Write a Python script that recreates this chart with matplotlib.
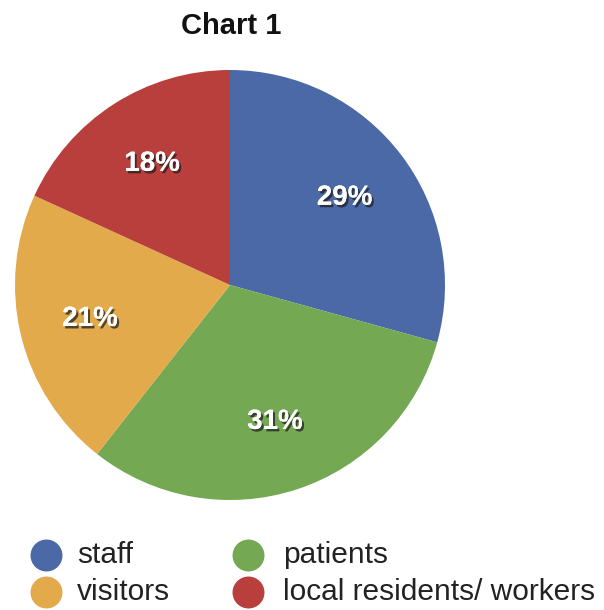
import matplotlib
matplotlib.use("Agg")
import matplotlib.pyplot as plt
import matplotlib.patheffects as pe
from matplotlib.lines import Line2D

plt.rcParams['font.family'] = ['Liberation Sans', 'DejaVu Sans']

title = "Chart 1"
categories = ["staff", "patients", "visitors", "local residents/ workers"]
shares = [29, 31, 21, 18]
colors = ["#4a69a6", "#74a853", "#e2aa4b", "#b83f3b"]

W, H = 604, 610
fig = plt.figure(figsize=(W / 100, H / 100), dpi=100)

ax = fig.add_axes([15 / W, 1 - 500 / H, 430 / W, 430 / H])
wedges, _, autotexts = ax.pie(
    shares, colors=colors, startangle=90, counterclock=False,
    autopct=lambda p: f"{p:.0f}%", pctdistance=0.67,
    wedgeprops=dict(linewidth=0),
    textprops=dict(color="white", fontsize=20, fontweight="bold"),
)
# Label text is computed from the normalised shares; show the stated values
for t, v in zip(autotexts, shares):
    t.set_text(f"{v}%")
    t.set_path_effects([pe.withSimplePatchShadow(offset=(1.5, -1.8), shadow_rgbFace="#202020", alpha=0.75),
                        pe.Normal()])
ax.set_xlim(-1, 1)
ax.set_ylim(-1, 1)
ax.set_aspect("equal")
ax.axis("off")

fig.text(231 / W, 1 - 26 / H, title, ha="center", va="center",
         fontsize=21, fontweight="bold", color="#111111")

# Legend laid out in two columns
order = [0, 2, 1, 3]
marker_x = [46, 46, 248, 248]
text_x = [77, 77, 283, 283]
row_y = [555, 592, 555, 592]
for k, i in enumerate(order):
    fig.add_artist(Line2D([marker_x[k] / W], [1 - row_y[k] / H], marker="o",
                          markersize=22, color=colors[i], linestyle="none",
                          transform=fig.transFigure))
    fig.text(text_x[k] / W, 1 - row_y[k] / H, categories[i], ha="left",
             va="center", fontsize=21.5, color="#222222")

fig.savefig("out.png", dpi=100)
